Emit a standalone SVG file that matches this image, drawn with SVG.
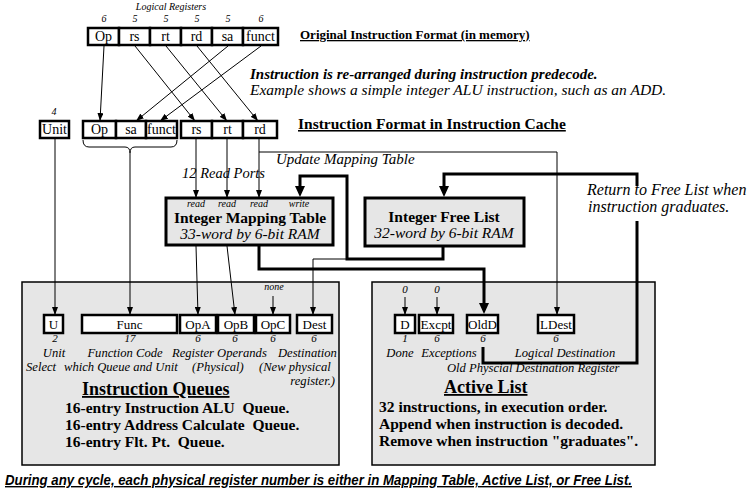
<svg xmlns="http://www.w3.org/2000/svg" width="755" height="492" viewBox="0 0 755 492">
<defs>
<style>
text{font-family:"Liberation Serif","Times New Roman",serif;fill:#000}
.b{font-weight:bold}
.i{font-style:italic}
.sm{font-size:10px;font-style:italic}
.fld{font-size:14px;text-anchor:middle}
.qf{font-size:13px;text-anchor:middle}
.lab{font-size:12.6px;font-style:italic}
.num{font-size:11px;font-style:italic;text-anchor:middle}
.c{text-anchor:middle}
.u{text-decoration:underline}
.box{fill:#fff;stroke:#000;stroke-width:2.5}
.panel{fill:#e6e6e6;stroke:#000;stroke-width:1.5}
.ram{fill:#e6e6e6;stroke:#000;stroke-width:3}
.thin{fill:none;stroke:#000;stroke-width:1}
.thick{fill:none;stroke:#000;stroke-width:3}
</style>
<marker id="ah" viewBox="0 0 8 6" refX="8" refY="3" markerWidth="8" markerHeight="6" orient="auto" markerUnits="userSpaceOnUse"><path d="M0,0 L8,3 L0,6 z"/></marker>
<marker id="ahb" viewBox="0 0 11 10" refX="7" refY="5" markerWidth="11" markerHeight="10" orient="auto" markerUnits="userSpaceOnUse"><path d="M0,0 L11,5 L0,10 z"/></marker>
</defs>
<rect width="755" height="492" fill="#fff"/>

<!-- panels -->
<g id="queues-panel">
<rect class="panel" x="22" y="282" width="317" height="183"/>
</g>
<g id="active-panel">
<rect class="panel" x="372" y="282" width="283" height="183"/>
</g>

<!-- connectors -->
<g id="connectors">
<path class="thin" d="M104,46 L100,121" marker-end="url(#ah)"/>
<path class="thin" d="M135,46 L195,121" marker-end="url(#ah)"/>
<path class="thin" d="M166,46 L227,121" marker-end="url(#ah)"/>
<path class="thin" d="M197,46 L258,121" marker-end="url(#ah)"/>
<path class="thin" d="M228,46 L136,121" marker-end="url(#ah)"/>
<path class="thin" d="M261,46 L160,121" marker-end="url(#ah)"/>
<path class="thin" d="M83,140 Q83,147 89,147 L125,147 Q130,147 130,153 Q130,147 135,147 L171,147 Q177,147 177,140"/>
<path class="thin" d="M130,153 V315" marker-end="url(#ah)"/>
<path class="thin" d="M55,139 V315" marker-end="url(#ah)"/>
<path class="thin" d="M196,139 V198" marker-end="url(#ah)"/>
<path class="thin" d="M227,139 V198" marker-end="url(#ah)"/>
<path class="thin" d="M259,139 V198" marker-end="url(#ah)"/>
<path class="thin" d="M259,152 H557 V315" marker-end="url(#ah)"/>
<path class="thin" d="M196,246 L198,315" marker-end="url(#ah)"/>
<path class="thin" d="M227,246 L235,315" marker-end="url(#ah)"/>
<path class="thin" d="M273,296 V315" marker-end="url(#ah)"/>
<path class="thin" d="M405,297 V315" marker-end="url(#ah)"/>
<path class="thin" d="M437,297 V315" marker-end="url(#ah)"/>
<path class="thin" d="M347,259 H313 V315" marker-end="url(#ah)"/>
<path class="thick" d="M443,247 V259 H347 V176 H300 V193" marker-end="url(#ahb)"/>
<path class="thick" d="M259,246 V269 H484 V310" marker-end="url(#ahb)"/>
<path class="thick" d="M483,347 V363 H637 V221"/>
<path class="thick" d="M637,186 V174 H444 V193" marker-end="url(#ahb)"/>
</g>

<!-- original format -->
<g id="original-format">
<text class="sm c" x="171" y="10">Logical Registers</text>
<text class="sm c" x="104" y="22">6</text>
<text class="sm c" x="135" y="22">5</text>
<text class="sm c" x="166" y="22">5</text>
<text class="sm c" x="197" y="22">5</text>
<text class="sm c" x="228" y="22">5</text>
<text class="sm c" x="261" y="22">6</text>
<rect class="box" x="88" y="28" width="31" height="17"/>
<rect class="box" x="119" y="28" width="31" height="17"/>
<rect class="box" x="150" y="28" width="31" height="17"/>
<rect class="box" x="181" y="28" width="31" height="17"/>
<rect class="box" x="212" y="28" width="31" height="17"/>
<rect class="box" x="243" y="28" width="35" height="17"/>
<text class="fld" x="103.5" y="41">Op</text>
<text class="fld" x="134.5" y="41">rs</text>
<text class="fld" x="165.5" y="41">rt</text>
<text class="fld" x="196.5" y="41">rd</text>
<text class="fld" x="227.5" y="41">sa</text>
<text class="fld" x="260.5" y="41">funct</text>
<text class="b u" x="300" y="39" font-size="13">Original Instruction Format (in memory)</text>
</g>

<g id="predecode-note">
<text class="b i" x="250" y="79" font-size="15">Instruction is re-arranged during instruction predecode.</text>
<text class="i" x="250" y="95" font-size="15.5">Example shows a simple integer ALU instruction, such as an ADD.</text>
</g>

<!-- cache format -->
<g id="cache-format">
<text class="sm c" x="54" y="115">4</text>
<rect class="box" x="40" y="121" width="29" height="17"/>
<rect class="box" x="83" y="121" width="33" height="17"/>
<rect class="box" x="116" y="121" width="30" height="17"/>
<rect class="box" x="146" y="121" width="31" height="17"/>
<rect class="box" x="181" y="121" width="31" height="17"/>
<rect class="box" x="212" y="121" width="31" height="17"/>
<rect class="box" x="243" y="121" width="34" height="17"/>
<text class="fld" x="54.5" y="134">Unit</text>
<text class="fld" x="99.5" y="134">Op</text>
<text class="fld" x="131" y="134">sa</text>
<text class="fld" x="161.5" y="134">funct</text>
<text class="fld" x="196.5" y="134">rs</text>
<text class="fld" x="227.5" y="134">rt</text>
<text class="fld" x="260" y="134">rd</text>
<text class="b u" x="298" y="129" font-size="15.5">Instruction Format in Instruction Cache</text>
</g>

<g id="labels-mid">
<text class="i" x="276" y="164" font-size="15">Update Mapping Table</text>
<text class="i" x="182" y="178" font-size="14.5">12 Read Ports</text>
<text class="i" x="587" y="195" font-size="16">Return to Free List when</text>
<text class="i" x="588" y="212" font-size="16">instruction graduates.</text>
</g>

<g id="mapping-table">
<rect class="ram" x="166" y="198" width="167" height="47"/>
<text class="sm c" x="196" y="207" font-size="9.5">read</text>
<text class="sm c" x="227" y="207" font-size="9.5">read</text>
<text class="sm c" x="259" y="207" font-size="9.5">read</text>
<text class="sm c" x="299" y="207" font-size="9.5">write</text>
<text class="b c" x="250" y="223" font-size="15.5">Integer Mapping Table</text>
<text class="i c" x="250" y="239" font-size="15.5">33-word by 6-bit RAM</text>
</g>

<g id="free-list">
<rect class="ram" x="365" y="198" width="159" height="48"/>
<text class="b c" x="444" y="222" font-size="15.5">Integer Free List</text>
<text class="i c" x="444" y="238" font-size="15.5">32-word by 6-bit RAM</text>
</g>

<g id="instruction-queues">
<text class="sm c" x="274" y="290" font-size="9">none</text>
<rect class="box" x="44" y="315" width="19" height="18"/>
<rect class="box" x="82" y="315" width="95" height="18"/>
<rect class="box" x="180" y="315" width="36" height="18"/>
<rect class="box" x="218" y="315" width="36" height="18"/>
<rect class="box" x="256" y="315" width="34" height="18"/>
<rect class="box" x="297" y="315" width="35" height="18"/>
<text class="qf" x="53.5" y="329">U</text>
<text class="qf" x="129.5" y="329">Func</text>
<text class="qf" x="198" y="329">OpA</text>
<text class="qf" x="236" y="329">OpB</text>
<text class="qf" x="273" y="329">OpC</text>
<text class="qf" x="314.5" y="329">Dest</text>
<text class="num" x="55" y="342">2</text>
<text class="num" x="130" y="342">17</text>
<text class="num" x="198" y="342">6</text>
<text class="num" x="235" y="342">6</text>
<text class="num" x="273" y="342">6</text>
<text class="num" x="314" y="342">6</text>
<text class="lab c" x="54" y="356.5">Unit</text>
<text class="lab c" x="125" y="356.5">Function Code</text>
<text class="lab" x="172" y="356.5">Register Operands</text>
<text class="lab" x="278" y="356.5">Destination</text>
<text class="lab" x="26" y="370.5">Select</text>
<text class="lab" x="64" y="370.5">which Queue and Unit</text>
<text class="lab" x="192" y="370.5">(Physical)</text>
<text class="lab" x="259" y="370.5">(New physical</text>
<text class="lab" x="335" y="384.5" text-anchor="end">register.)</text>
<text class="b u" x="82" y="395" font-size="18">Instruction Queues</text>
<text class="b" x="65" y="413" font-size="15.5" xml:space="preserve">16-entry Instruction ALU  Queue.</text>
<text class="b" x="65" y="430" font-size="15.5" xml:space="preserve">16-entry Address Calculate  Queue.</text>
<text class="b" x="65" y="447" font-size="15.5" xml:space="preserve">16-entry Flt. Pt.  Queue.</text>
</g>

<g id="active-list">
<text class="num" x="405" y="293">0</text>
<text class="num" x="437" y="293">0</text>
<rect class="box" x="395" y="315" width="20" height="18"/>
<rect class="box" x="419" y="315" width="34" height="18"/>
<rect class="box" x="467" y="315" width="31" height="18"/>
<rect class="box" x="538" y="315" width="36" height="18"/>
<text class="qf" x="405" y="329">D</text>
<text class="qf" x="436" y="329" textLength="31" lengthAdjust="spacingAndGlyphs">Excpt</text>
<text class="qf" x="482.5" y="329">OldD</text>
<text class="qf" x="556" y="329">LDest</text>
<text class="num" x="405" y="342">1</text>
<text class="num" x="437" y="342">6</text>
<text class="num" x="483" y="342">6</text>
<text class="num" x="556" y="342">6</text>
<text class="lab c" x="400" y="356.5">Done</text>
<text class="lab c" x="449" y="356.5">Exceptions</text>
<text class="lab c" x="565" y="356.5">Logical Destination</text>
<text class="lab" x="447" y="372">Old Physcial Destination Register</text>
<text class="b u" x="444" y="393" font-size="18">Active List</text>
<text class="b" x="379" y="412" font-size="15.5">32 instructions, in execution order.</text>
<text class="b" x="379" y="429" font-size="15.5">Append when instruction is decoded.</text>
<text class="b" x="379" y="446" font-size="15.5">Remove when instruction "graduates".</text>
</g>

<g id="footer">
<text class="b i u" x="5" y="485" font-size="14" style="font-family:'Liberation Sans Narrow','Liberation Sans',sans-serif" textLength="627" lengthAdjust="spacingAndGlyphs">During any cycle, each physical register number is either in Mapping Table, Active List, or Free List.</text>
</g>
</svg>
